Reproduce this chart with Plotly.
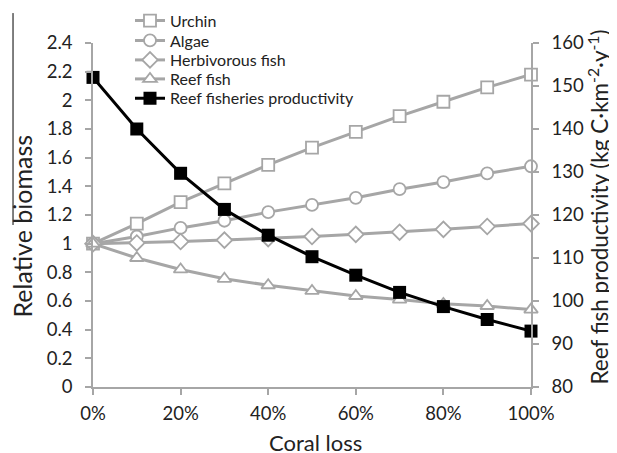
import plotly.graph_objects as go

coral_loss = [0, 0.1, 0.2, 0.3, 0.4, 0.5, 0.6, 0.7, 0.8, 0.9, 1.0]
urchin = [1.0, 1.14, 1.29, 1.42, 1.55, 1.67, 1.78, 1.89, 1.99, 2.09, 2.18]
algae = [1.0, 1.05, 1.11, 1.16, 1.22, 1.27, 1.32, 1.38, 1.43, 1.49, 1.54]
herbivorous = [1.0, 1.005, 1.015, 1.025, 1.035, 1.05, 1.065, 1.08, 1.10, 1.12, 1.14]
reef_fish = [1.0, 0.90, 0.82, 0.755, 0.71, 0.67, 0.635, 0.61, 0.58, 0.565, 0.54]
productivity = [152, 140, 129.7, 121.3, 115.3, 110.3, 106, 102, 98.7, 95.7, 93]

series_names = ["Urchin", "Algae", "Herbivorous fish", "Reef fish", "Reef fisheries productivity"]

GRAY = "#a6a6a6"
TXT = "#222"
FONT = "Lato"
# page body has an 8px margin, so the figure is 8px smaller on each axis
W, H = 609, 445

fig = go.Figure()

def gray_trace(y, name, symbol, legend):
    return go.Scatter(
        x=coral_loss, y=y, name=name, mode="lines+markers", legend=legend,
        line=dict(color=GRAY, width=3),
        marker=dict(symbol=symbol, size=12, color="white",
                    line=dict(color=GRAY, width=1.8)),
        cliponaxis=False,
    )

fig.add_trace(gray_trace(urchin, series_names[0], "square", "legend"))
fig.add_trace(gray_trace(algae, series_names[1], "circle", "legend2"))
fig.add_trace(gray_trace(herbivorous, series_names[2], "diamond", "legend3"))
fig.add_trace(gray_trace(reef_fish, series_names[3], "triangle-up", "legend4"))
fig.add_trace(go.Scatter(
    x=coral_loss, y=productivity, name=series_names[4], legend="legend5",
    mode="lines+markers", yaxis="y2",
    line=dict(color="black", width=3),
    marker=dict(symbol="square", size=13, color="black"),
    cliponaxis=False,
))

axis_common = dict(
    showgrid=False, zeroline=False, showline=True, linecolor=GRAY, linewidth=1.5,
    ticks="outside", ticklen=6, tickcolor=GRAY, tickwidth=1.5,
    tickfont=dict(family=FONT, size=18.5, color=TXT),
)

legend_rows = [12.7, 32.5, 52, 71, 90.3]
legends = {}
for i, yc in enumerate(legend_rows):
    key = "legend" if i == 0 else f"legend{i+1}"
    legends[key] = dict(
        x=122 / W, y=1 - yc / H, xref="container", yref="container",
        xanchor="left", yanchor="middle",
        font=dict(family=FONT, size=16, color=TXT),
        bgcolor="rgba(0,0,0,0)", borderwidth=0, itemwidth=30,
    )

title_font = lambda s: dict(family=FONT, size=s, color=TXT)

fig.update_layout(
    width=W, height=H,
    margin=dict(l=85, r=86, t=35, b=66, autoexpand=False),
    paper_bgcolor="white", plot_bgcolor="white",
    showlegend=True,
    xaxis=dict(range=[0, 1], tickvals=[0, 0.2, 0.4, 0.6, 0.8, 1.0],
               tickformat=".0%", ticklabelstandoff=3, **axis_common),
    yaxis=dict(range=[0, 2.4], tickvals=[0, 0.2, 0.4, 0.6, 0.8, 1, 1.2, 1.4, 1.6, 1.8, 2, 2.2, 2.4],
               ticktext=["0", "0.2", "0.4", "0.6", "0.8", "1", "1.2", "1.4", "1.6", "1.8", "2", "2.2", "2.4"],
               ticklabelstandoff=9, **axis_common),
    yaxis2=dict(range=[80, 160], tickvals=[80, 90, 100, 110, 120, 130, 140, 150, 160],
                overlaying="y", side="right", ticklabelstandoff=9, **axis_common),
    annotations=[
        dict(text="Coral loss", xref="paper", yref="paper", x=0.509, y=-0.162,
             xanchor="center", yanchor="middle", showarrow=False, font=title_font(22)),
        dict(text="Relative biomass", xref="paper", yref="paper", x=-0.1621, y=0.4666,
             xanchor="center", yanchor="middle", textangle=-90, showarrow=False,
             font=title_font(25)),
        dict(text="Reef fish productivity (kg C·km<sup>-2</sup>·y<sup>-1</sup>)",
             xref="paper", yref="paper", x=1.152, y=0.5233,
             xanchor="center", yanchor="middle", textangle=-90, showarrow=False,
             font=title_font(22.5)),
    ],
    shapes=[dict(type="line", xref="paper", yref="paper",
                 x0=-0.1826, x1=-0.1826, y0=1.087, y1=0.471,
                 line=dict(color="black", width=1))],
    **legends,
)

fig.write_html("out.html")
